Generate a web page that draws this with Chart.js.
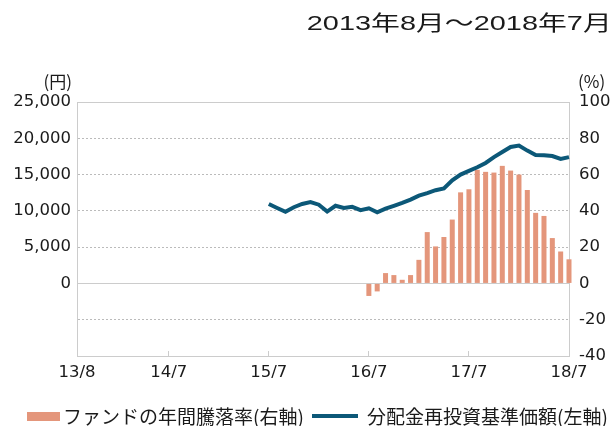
<!DOCTYPE html>
<html>
<head>
<meta charset="utf-8">
<script src="https://cdn.jsdelivr.net/npm/chart.js@4/dist/chart.umd.min.js"></script>
<style>
  body { margin: 0; background: #fff; }
  #wrap { position: relative; width: 615px; height: 426px; overflow: hidden; }
  #title { position: absolute; right: 3px; top: 12px; font: 21px/21px 'Liberation Sans', 'Noto Sans CJK JP'; color: #1a1a1a; white-space: nowrap; transform-origin: right center; }
  .unit { position: absolute; top: 72px; font: 17px/17px 'Noto Sans CJK JP'; color: #1a1a1a; white-space: nowrap; }
  .lg-text { position: absolute; top: 406px; font: 19px/19px 'Noto Sans CJK JP'; color: #1a1a1a; white-space: nowrap; }
  .lg-box { position: absolute; }
</style>
</head>
<body>
<div id="wrap">
  <canvas id="myChart" width="615" height="426"></canvas>
  <div id="title">2013年8月～2018年7月</div>
  <div class="unit" style="right:543px">(円)</div>
  <div class="unit" style="left:578px">(%)</div>
  <div class="lg-box" id="lgBar" style="left:27px;top:412px;width:33px;height:9px"></div>
  <div class="lg-text" style="left:63px">ファンドの年間騰落率(右軸)</div>
  <div class="lg-box" id="lgLine" style="left:312px;top:414px;width:46px;height:4px"></div>
  <div class="lg-text" style="left:367px">分配金再投資基準価額(左軸)</div>
</div>
<script>
const barColor = '#e4967b';
const lineColor = '#0c5878';

// labelled ticks on the x axis
const tickLabels = ['13/8', '14/7', '15/7', '16/7', '17/7', '18/7'];

// monthly categories 2013/8 .. 2018/7
const months = [];
for (let y = 13; y <= 18; y++) {
    for (let m = 1; m <= 12; m++) {
        if ((y == 13 && m < 8) || (y == 18 && m > 7)) continue;
        months.push(`${y}/${m}`);
    }
}

// 分配金再投資基準価額 (円), monthly from 15/7
const navValues = [
    10950, 10400, 9870, 10500, 10950, 11200, 10850, 9900, 10700, 10400,
    10550, 10100, 10350, 9800, 10300, 10700, 11100, 11550, 12100, 12450,
    12850, 13100, 14200, 15000, 15500, 16000, 16600, 17400, 18100, 18800,
    19000, 18300, 17700, 17650, 17550, 17150, 17400
];

// ファンドの年間騰落率 (%), monthly from 16/7
const returnValues = [
    -6.9, -4.4, 5.7, 4.6, 2.0, 4.6, 13.0, 28.3, 20.4, 25.6,
    35.2, 50.2, 51.9, 62.6, 61.5, 61.1, 64.8, 62.2, 60.0, 51.5,
    38.9, 37.2, 25.0, 17.6, 13.3
];

const navData = Array(months.length - navValues.length).fill(null).concat(navValues);
const returnData = Array(months.length - returnValues.length).fill(null).concat(returnValues);

document.getElementById('lgBar').style.background = barColor;
document.getElementById('lgLine').style.background = lineColor;

const title = document.getElementById('title');
title.style.transform = `scaleX(${305 / title.getBoundingClientRect().width})`;

const tickFont = { family: "'DejaVu Sans'", size: 16.5 };
const dotted = [5000, 10000, 15000, 20000, -5000];
const solid = [100, 0, -40];

const ctx = document.getElementById('myChart').getContext('2d');
const myChart = new Chart(ctx, {
    data: {
        labels: months,
        datasets: [
            {
                type: 'line',
                label: '分配金再投資基準価額(左軸)',
                data: navData,
                yAxisID: 'y',
                borderColor: lineColor,
                borderWidth: 4,
                pointRadius: 0,
                tension: 0,
                order: 0
            },
            {
                type: 'bar',
                label: 'ファンドの年間騰落率(右軸)',
                data: returnData,
                yAxisID: 'y1',
                backgroundColor: barColor,
                barPercentage: 0.6,
                categoryPercentage: 1,
                clip: false,
                order: 1
            }
        ]
    },
    options: {
        responsive: false,
        animation: false,
        events: [],
        layout: { padding: { top: 102, left: 0, right: 0, bottom: 0 } },
        plugins: {
            legend: { display: false },
            tooltip: { enabled: false }
        },
        scales: {
            x: {
                offset: false,
                grid: {
                    offset: false,
                    drawOnChartArea: false,
                    tickLength: -5,
                    color: (c) => tickLabels.includes(months[c.index]) ? '#cccccc' : 'rgba(0,0,0,0)'
                },
                border: { color: '#cccccc' },
                ticks: {
                    autoSkip: false,
                    maxRotation: 0,
                    padding: 12,
                    color: '#1a1a1a',
                    font: tickFont,
                    callback: (v, i) => tickLabels.includes(months[i]) ? months[i] : ''
                },
                afterFit: (scale) => { scale.height = 70; }
            },
            y: {
                position: 'left',
                min: -10000,
                max: 25000,
                grid: {
                    drawTicks: false,
                    color: (c) => dotted.includes(c.tick && c.tick.value) ? '#bbbbbb' : 'rgba(0,0,0,0)'
                },
                border: { color: '#cccccc', dash: [2, 2] },
                ticks: {
                    stepSize: 5000,
                    padding: 6,
                    color: '#1a1a1a',
                    font: tickFont,
                    callback: (v) => v < 0 ? '' : v.toLocaleString('en-US')
                },
                afterFit: (scale) => { scale.width = 77; }
            },
            y1: {
                position: 'right',
                min: -40,
                max: 100,
                grid: {
                    drawTicks: false,
                    color: (c) => solid.includes(c.tick && c.tick.value) ? '#cccccc' : 'rgba(0,0,0,0)'
                },
                border: { color: '#cccccc' },
                ticks: {
                    stepSize: 20,
                    padding: 10,
                    color: '#1a1a1a',
                    font: tickFont
                },
                afterFit: (scale) => { scale.width = 46; }
            }
        }
    }
});
</script>
</body>
</html>
